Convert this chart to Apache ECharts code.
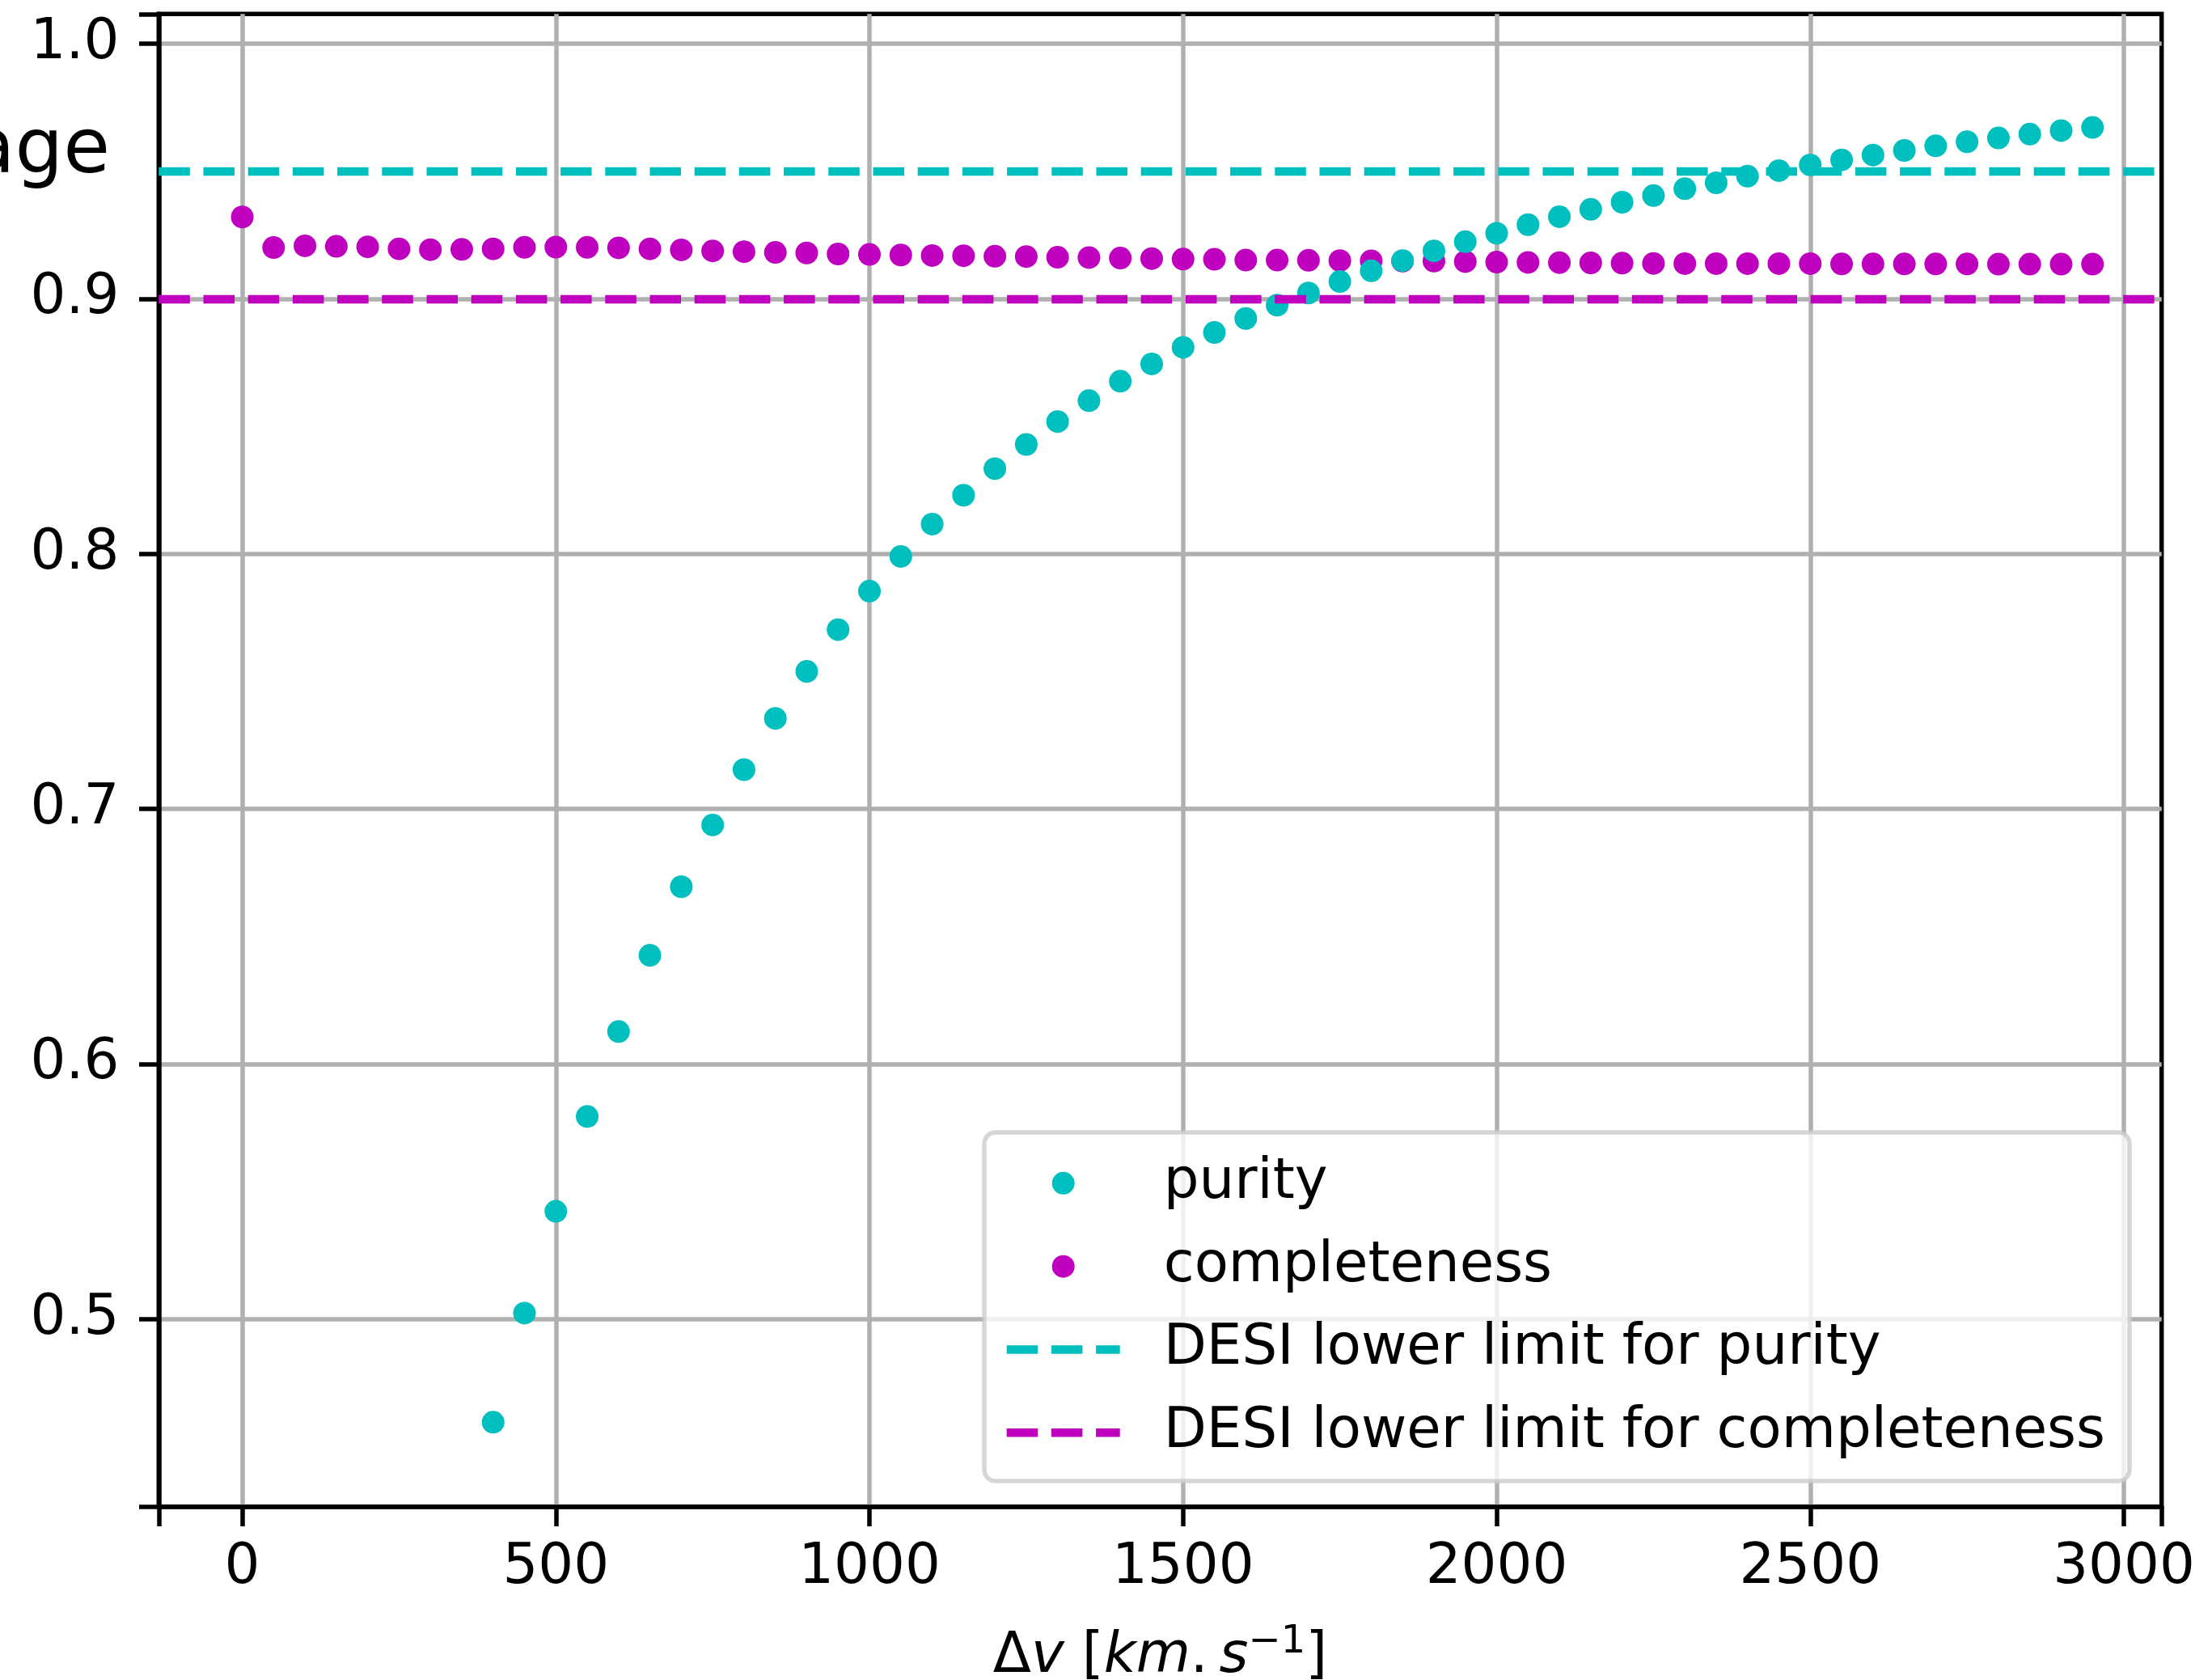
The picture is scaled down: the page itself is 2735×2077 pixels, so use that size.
<!DOCTYPE html>
<html>
<head>
<meta charset="utf-8">
<script src="https://cdn.jsdelivr.net/npm/echarts@6/dist/echarts.min.js"></script>
<style>
html,body{margin:0;padding:0;background:#fff;}
#chart{width:2735px;height:2077px;}
</style>
</head>
<body>
<div id="chart"></div>
<script>
// ---- data ----
const purityDv = [400, 450, 500, 550, 600, 650, 700, 750, 800, 850, 900, 950, 1000, 1050, 1100, 1150, 1200, 1250, 1300, 1350, 1400, 1450, 1500, 1550, 1600, 1650, 1700, 1750, 1800, 1850, 1900, 1950, 2000, 2050, 2100, 2150, 2200, 2250, 2300, 2350, 2400, 2450, 2500, 2550, 2600, 2650, 2700, 2750, 2800, 2850, 2900, 2950];
const purity = [0.4595, 0.5023, 0.5422, 0.5794, 0.6127, 0.6426, 0.6695, 0.6937, 0.7154, 0.7355, 0.7539, 0.7703, 0.7854, 0.7990, 0.8117, 0.8230, 0.8334, 0.8429, 0.8519, 0.8601, 0.8677, 0.8745, 0.8810, 0.8868, 0.8923, 0.8975, 0.9023, 0.9068, 0.9110, 0.9150, 0.9188, 0.9224, 0.9257, 0.9291, 0.9322, 0.9351, 0.9379, 0.9405, 0.9432, 0.9455, 0.9481, 0.9503, 0.9525, 0.9545, 0.9564, 0.9582, 0.9600, 0.9616, 0.9631, 0.9646, 0.9660, 0.9672];
const completenessDv = [0, 50, 100, 150, 200, 250, 300, 350, 400, 450, 500, 550, 600, 650, 700, 750, 800, 850, 900, 950, 1000, 1050, 1100, 1150, 1200, 1250, 1300, 1350, 1400, 1450, 1500, 1550, 1600, 1650, 1700, 1750, 1800, 1850, 1900, 1950, 2000, 2050, 2100, 2150, 2200, 2250, 2300, 2350, 2400, 2450, 2500, 2550, 2600, 2650, 2700, 2750, 2800, 2850, 2900, 2950];
const completeness = [0.9321, 0.9201, 0.9208, 0.9206, 0.9204, 0.9196, 0.9193, 0.9194, 0.9196, 0.9202, 0.9203, 0.9202, 0.9200, 0.9196, 0.9192, 0.9188, 0.9185, 0.9182, 0.9180, 0.9176, 0.9174, 0.9172, 0.9170, 0.9169, 0.9167, 0.9166, 0.9163, 0.9162, 0.9160, 0.9158, 0.9156, 0.9155, 0.9152, 0.9152, 0.9151, 0.9150, 0.9149, 0.9148, 0.9148, 0.9146, 0.9144, 0.9143, 0.9142, 0.9141, 0.9140, 0.9139, 0.9138, 0.9138, 0.9138, 0.9138, 0.9138, 0.9137, 0.9137, 0.9137, 0.9137, 0.9137, 0.9136, 0.9136, 0.9136, 0.9136];
const purityLimit = 0.95;
const completenessLimit = 0.90;
const xTicks = [0, 500, 1000, 1500, 2000, 2500, 3000];
const yTicks = [0.5, 0.6, 0.7, 0.8, 0.9, 1.0];
const xRange = [-133.1, 3060.2];
const yRange = [0.4264, 1.0117];
const seriesNames = ['purity', 'completeness', 'DESI lower limit for purity', 'DESI lower limit for completeness'];

// ---- style ----
const CYAN = '#00bfbf', MAGENTA = '#bf00bf';
const FONT = 'DejaVu Sans';
const LW = 10.4, DASH = [38.5, 16.7];
const TICK_LEN = 24.3, SPINE_W = 5.5;
const DASH_ICON = 'path://M0,0h38.5v10.4h-38.5z M55.2,0h38.5v10.4h-38.5z M110.4,0h29.6v10.4h-29.6z';

const chart = echarts.init(document.getElementById('chart'), null, {renderer: 'canvas'});
const axisLineStyle = {color: '#000', width: SPINE_W};
const tickStyle = {show: true, inside: false, length: TICK_LEN, lineStyle: {color: '#000', width: SPINE_W}};

const option = {
  animation: false,
  backgroundColor: '#ffffff',
  grid: {
    left: 196.3, right: 62.3, top: 17.3, bottom: 214.3,
    show: true, borderColor: '#000', borderWidth: SPINE_W, backgroundColor: 'transparent',
    containLabel: false, outerBoundsMode: 'none'
  },
  xAxis: {
    type: 'value', min: xRange[0], max: xRange[1], splitNumber: 6,
    axisLine: {show: true, onZero: false, lineStyle: axisLineStyle},
    axisTick: tickStyle,
    axisLabel: {show: true, customValues: xTicks, margin: 42, fontSize: 69, fontFamily: FONT, color: '#000',
      formatter: v => String(Math.round(v))},
    splitLine: {show: true, showMinLine: false, showMaxLine: false, lineStyle: {color: '#b0b0b0', width: 5.5}},
    name: '{u|\u0394}{i|v}{u| [}{i|km}{u|.\u2009}{i|s}{sup|\u22121}{u|]}',
    nameLocation: 'middle', nameGap: 144,
    nameTextStyle: {
      rich: {
        u: {fontSize: 69, fontFamily: FONT, color: '#000', lineHeight: 84},
        i: {fontSize: 69, fontFamily: FONT, fontStyle: 'italic', color: '#000', lineHeight: 84},
        sup: {fontSize: 48, fontFamily: FONT, color: '#000', lineHeight: 48, verticalAlign: 'top'}
      }
    }
  },
  yAxis: {
    type: 'value', min: yRange[0], max: yRange[1],
    axisLine: {show: true, onZero: false, lineStyle: axisLineStyle},
    axisTick: tickStyle,
    axisLabel: {show: true, customValues: yTicks, margin: 49, fontSize: 69, fontFamily: FONT, color: '#000',
      formatter: v => Number(v).toFixed(1)},
    splitLine: {show: true, showMinLine: false, showMaxLine: false, lineStyle: {color: '#b0b0b0', width: 5.5}}
  },
  legend: {
    orient: 'vertical', left: 1217, top: 1400,
    data: [
      {name: seriesNames[0], icon: 'circle'},
      {name: seriesNames[1], icon: 'circle'},
      {name: seriesNames[2], icon: DASH_ICON},
      {name: seriesNames[3], icon: DASH_ICON}
    ],
    itemWidth: 140, itemHeight: 28, itemGap: 1.1,
    padding: [12, 30, 9, 27.7],
    backgroundColor: 'rgba(255,255,255,0.8)',
    borderColor: 'rgba(204,204,204,0.8)', borderWidth: 5.5, borderRadius: 14,
    selectedMode: false,
    textStyle: {fontSize: 69, fontFamily: FONT, color: '#000', lineHeight: 101.7, padding: [0, 0, 0, 49]},
    z: 10
  },
  graphic: [{
    type: 'text', x: 136, y: 189, z: 10,
    style: {text: 'Percentage', fontSize: 94, fontFamily: FONT, fill: '#000',
      align: 'right', textAlign: 'right', verticalAlign: 'middle', textVerticalAlign: 'middle'}
  }],
  series: [
    {
      name: seriesNames[0], type: 'scatter', z: 4,
      symbol: 'circle', symbolSize: 28,
      itemStyle: {color: CYAN, opacity: 1},
      data: purityDv.map((x, i) => [x, purity[i]])
    },
    {
      name: seriesNames[1], type: 'scatter', z: 3,
      symbol: 'circle', symbolSize: 28,
      itemStyle: {color: MAGENTA, opacity: 1},
      data: completenessDv.map((x, i) => [x, completeness[i]])
    },
    {
      name: seriesNames[2], type: 'line', z: 5, symbol: 'none', showSymbol: false,
      lineStyle: {color: CYAN, width: LW, type: DASH},
      itemStyle: {color: CYAN},
      data: [],
      markLine: {
        silent: true, symbol: ['none', 'none'], label: {show: false}, animation: false,
        lineStyle: {color: CYAN, width: LW, type: DASH},
        data: [{yAxis: purityLimit}]
      }
    },
    {
      name: seriesNames[3], type: 'line', z: 5, symbol: 'none', showSymbol: false,
      lineStyle: {color: MAGENTA, width: LW, type: DASH},
      itemStyle: {color: MAGENTA},
      data: [],
      markLine: {
        silent: true, symbol: ['none', 'none'], label: {show: false}, animation: false,
        lineStyle: {color: MAGENTA, width: LW, type: DASH},
        data: [{yAxis: completenessLimit}]
      }
    }
  ]
};
chart.setOption(option);
</script>
</body>
</html>
